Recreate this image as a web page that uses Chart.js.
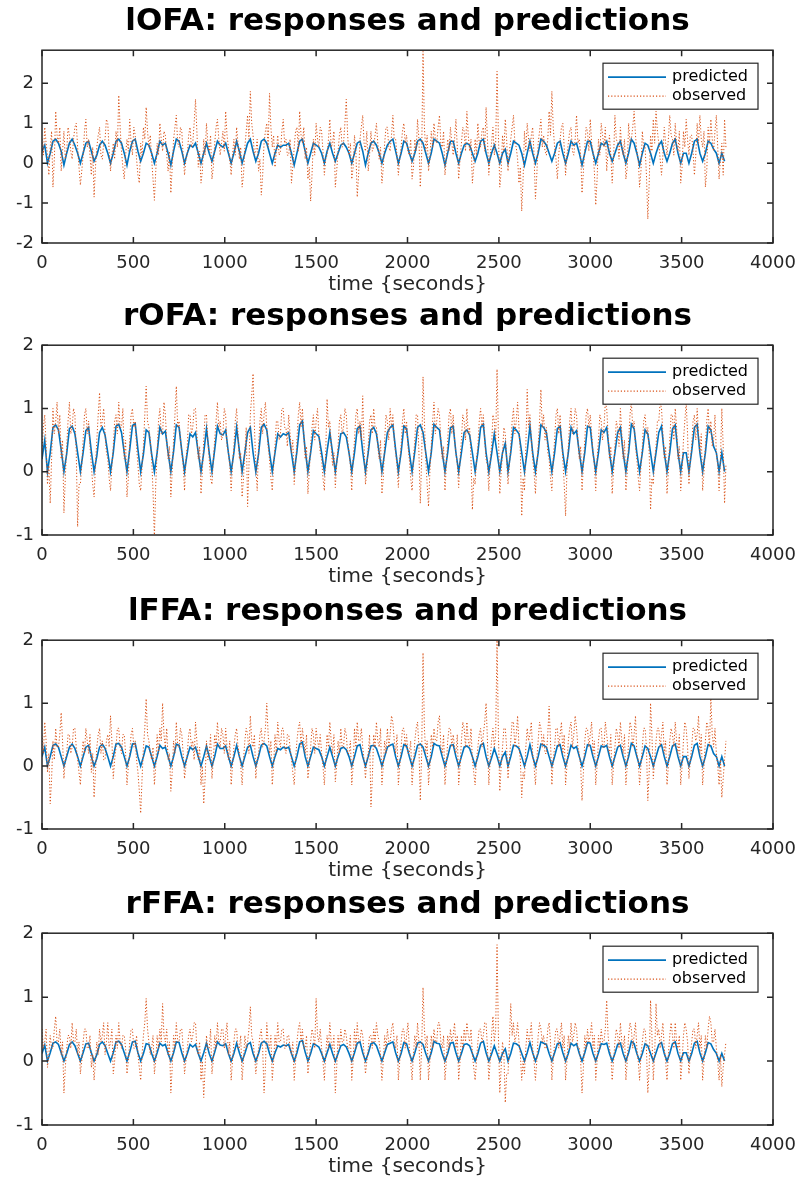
<!DOCTYPE html>
<html>
<head>
<meta charset="utf-8">
<title>Responses and predictions</title>
<script src="https://cdn.jsdelivr.net/npm/chart.js"></script>
<style>
  body { margin: 0; background: #fff; }
  #wrap { position: relative; width: 800px; height: 1180px; }
  .panel { position: absolute; left: 0; width: 800px; }
</style>
</head>
<body>
<div id="wrap"></div>
<script>
// sampling steps of the time series (seconds)
const dtPred = 15;
const dtObs = 7.5;

const roiNames = ['lOFA', 'rOFA', 'lFFA', 'rFFA'];
const xTicks = [0, 500, 1000, 1500, 2000, 2500, 3000, 3500, 4000];

// lOFA
const predicted_lOFA = [
  .3,.45,0,.25,.55,.6,.5,.3,-.05,.25,
  .5,.6,.45,.25,0,.25,.5,.55,.3,.05,
  .2,.45,.55,.45,.25,0,.25,.55,.6,.5,
  .25,-.05,.3,.55,.6,.3,.05,.25,.5,.45,
  .25,0,.25,.55,.45,.5,.25,-.05,.3,.6,
  .55,.3,0,.25,.45,.4,.5,.25,0,.25,
  .5,.25,.05,.3,.55,.45,.4,.5,.25,0,
  .25,.55,.3,0,.25,.5,.6,.3,.05,.25,
  .55,.6,.5,.25,0,.25,.45,.4,.45,.45,
  .5,.25,-.05,.25,.55,.6,.3,0,.25,.5,
  .45,.4,.25,0,.3,.5,.25,.05,.25,.45,
  .5,.4,.25,0,.25,.5,.55,.3,-.05,.25,
  .5,.55,.45,.25,0,.25,.45,.55,.6,.3,
  0,.25,.55,.5,.25,.05,.25,.55,.6,.5,
  .25,0,.25,.6,.55,.5,.25,-.05,.25,.55,
  .55,.25,0,.25,.45,.5,.45,.25,.05,.25,
  .55,.6,.25,0,.25,.45,.25,0,.25,.35,
  0,.25,.55,.5,.45,.25,-.05,.25,.55,.25,
  0,.25,.6,.55,.45,.25,.05,.25,.5,.55,
  .25,0,.25,.55,.45,.5,.25,-.05,.25,.55,
  .55,.25,0,.25,.5,.45,.55,.25,.05,.25,
  .45,.55,.25,0,.25,.6,.5,.25,-.05,.25,
  .5,.45,.25,0,.25,.45,.55,.25,.05,.25,
  .5,.6,.25,0,.25,.25,0,.25,.55,.6,
  .25,.05,.25,.55,.5,.35,.25,0,.25,.05
];
const observed_lOFA = [
  .6,.2,.9,.5,.2,-.3,.4,.8,-.6,.1,1.3,.7,.5,.9,-.2,.3,.8,.1,.3,.9,
  .7,.3,.1,.6,.9,1.0,.4,-.1,-.55,-.2,.2,.8,1.1,.4,.6,.2,-.3,.4,-.85,-.1,
  .4,.7,.9,.2,.1,.5,.6,1.1,1.0,.3,-.2,.2,.5,.1,.8,.4,1.7,.9,.3,-.1,
  -.4,.2,.6,.3,1.1,.5,.2,.9,.7,.1,-.3,-.5,.5,.2,.9,.6,1.4,.8,.4,.7,
  .1,-.4,-.93,-.2,.5,.2,1.0,.6,.3,.8,.7,.2,-.2,.3,-.75,-.1,.6,.9,1.2,.5,
  .4,.9,.8,.2,-.3,.1,.2,.7,.9,.4,.5,1.0,1.6,.8,-.1,.3,-.5,-.2,.6,.2,
  1.0,.5,.3,.7,-.4,-.1,.5,.9,1.1,.6,.2,.5,.8,.3,1.3,.7,.4,.1,-.3,.2,
  .6,.2,.9,.5,.1,.4,-.6,-.3,.4,.8,1.2,.6,1.8,1.0,.7,.2,.3,.6,-.2,.1,
  -.8,-.3,.5,.8,1.0,.4,1.75,.9,.4,.7,-.1,.3,.7,.2,.3,.8,1.1,.5,.6,.2,
  .2,.6,-.5,-.1,.4,.8,.9,.3,1.3,.7,.5,.9,.1,.4,-.4,-.1,-.95,-.3,.6,.2,
  1.0,.6,.4,.9,.8,.3,-.3,.1,.2,.6,1.1,.4,.5,.8,-.6,-.2,.3,.7,.9,.4,
  .5,1.0,1.6,.7,.2,.5,-.4,-.1,.7,.3,-.85,-.3,.6,.9,1.2,.5,.3,.8,-.2,.2,
  .8,.3,.4,.7,1.0,.5,.1,.4,-.5,-.1,.5,.9,.9,.4,.3,.7,1.2,.6,.6,.2,
  -.3,.1,.4,.8,1.0,.5,.7,.3,.2,.6,-.4,-.1,.6,.3,1.1,.6,-.6,.2,2.8,.9,
  .3,.7,-.2,.1,.8,.4,1.0,.6,.5,.9,1.2,.5,.4,.8,-.3,.1,.6,.3,.9,.5,
  .2,.6,1.1,.4,-.4,.1,.5,.9,.8,.3,1.3,.7,.3,.6,-.5,-.1,.6,.2,1.0,.5,
  .4,.8,.9,.3,1.4,.6,-.3,.2,.5,.9,.2,.5,2.3,.7,-.6,-.2,.7,.3,1.1,.6,
  -.2,.3,.6,.9,1.2,.5,.4,.1,-.5,-.1,-1.2,-.4,.8,.3,1.0,.6,.3,.7,.9,.2,
  -.9,-.3,.5,.8,1.1,.4,.7,.3,.2,.6,1.3,.7,1.8,.9,.4,.1,-.4,.2,.6,.9,
  1.0,.4,-.3,.2,.5,.8,.9,.3,.2,.6,1.2,.5,.6,.2,-.75,-.2,.4,.9,.8,.3,
  1.1,.5,.3,-.2,-1.05,-.4,.6,.2,1.0,.7,.4,.9,-.2,.3,.7,.2,-.5,.1,1.2,.6,
  .5,.1,.9,.4,.2,.6,-.4,-.1,1.0,.5,.6,.9,1.3,.7,.3,.1,-.6,-.2,.8,.4,
  .4,-.3,-1.4,-.5,.7,.3,1.1,.5,1.3,.8,.5,.1,-.3,.2,.9,.5,.2,.6,1.2,.7,
  .6,.2,1.0,.5,.3,.8,-.5,-.1,.8,.4,1.1,.6,.2,.7,.7,.3,-.3,.2,1.0,.5,
  1.2,.6,.4,.8,-.6,-.2,.9,.5,1.1,.6,.3,.8,1.2,.4,-.4,.1,.5,-.3,1.1,.4
];

// rOFA
const predicted_rOFA = [
  .2,.5,0,.3,.7,.74,.66,.35,0,.28,
  .68,.72,.6,.3,0,.3,.65,.7,.32,0,
  .25,.62,.7,.58,.3,0,.3,.72,.75,.62,
  .3,0,.35,.73,.76,.35,0,.28,.66,.62,
  .28,0,.3,.7,.6,.64,.3,0,.32,.74,
  .7,.33,0,.3,.6,.55,.62,.3,0,.3,
  .68,.3,0,.35,.72,.6,.58,.66,.3,0,
  .3,.7,.33,0,.3,.62,.7,.3,0,.28,
  .7,.75,.66,.3,0,.3,.6,.55,.6,.58,
  .62,.3,0,.32,.74,.8,.35,0,.3,.65,
  .6,.56,.3,0,.33,.62,.3,0,.3,.6,
  .62,.55,.3,0,.3,.68,.72,.32,0,.3,
  .66,.7,.6,.3,0,.3,.62,.7,.74,.35,
  0,.3,.72,.68,.3,0,.32,.7,.74,.62,
  .3,0,.3,.75,.7,.66,.3,0,.3,.7,
  .72,.3,0,.3,.62,.66,.58,.3,0,.3,
  .7,.75,.3,0,.28,.6,.3,0,.3,.45,
  0,.3,.7,.66,.6,.3,0,.32,.72,.3,
  0,.3,.74,.7,.62,.3,0,.3,.68,.72,
  .3,0,.3,.7,.6,.65,.3,0,.3,.72,
  .7,.3,0,.3,.66,.62,.7,.3,0,.3,
  .62,.7,.3,0,.3,.75,.68,.3,0,.3,
  .66,.6,.3,0,.3,.62,.72,.3,0,.3,
  .68,.74,.3,0,.3,.3,0,.32,.7,.75,
  .3,0,.3,.72,.66,.4,.3,0,.3,0
];
const observed_rOFA = [
  .3,.7,.9,.4,-.2,.1,-.5,.2,1.0,.6,.8,1.1,.6,.9,.2,.5,-.65,-.1,.4,.8,
  1.1,.6,.7,1.0,.9,.3,-.87,-.2,-.2,.1,.5,.9,1.0,.6,.8,.4,.1,-.2,-.4,.1,
  .5,.9,1.25,.7,.8,1.0,.6,.3,.2,-.1,-.3,.1,.4,.8,.9,.6,1.1,.7,.7,1.0,
  .2,.5,-.4,-.1,.5,.9,1.0,.7,.8,.4,.1,-.2,-.3,.1,.4,.9,1.35,.8,.7,.5,
  .2,-.3,-1.05,-.2,.3,.8,1.0,.6,.6,1.1,.9,.5,.2,.4,-.4,0,.5,.9,1.35,.7,
  .8,.5,.3,.1,-.3,.2,.4,.9,.9,.6,.7,1.0,1.0,.6,.2,.4,-.35,0,.5,.9,
  .9,.5,.2,-.1,-.2,.2,.5,.8,1.1,.7,.8,.5,.6,1.0,.9,.4,.3,.1,-.3,.1,
  .4,.8,1.0,.6,.2,.3,-.4,-.1,.3,.7,-.55,.1,.9,1.2,1.55,.7,.1,-.3,.4,.8,
  1.0,.6,.9,1.1,.7,.4,.2,-.1,-.3,.1,.4,.8,.8,.5,.6,1.0,1.0,.7,.7,.4,
  .9,.6,.3,.5,-.2,.1,.5,.9,1.1,.7,1.0,.6,.2,.4,-.35,0,.4,.7,.9,.5,
  .8,1.0,.6,.3,.2,-.1,-.3,.3,1.15,.7,.8,.4,.1,.3,-.25,.1,.4,.8,.9,.6,
  .7,1.0,.9,.5,.3,.1,-.3,.2,.5,.9,1.0,.6,.8,.5,1.2,.4,-.2,0,.4,.8,
  .9,.6,1.0,.7,.7,.4,.2,.5,-.35,-.1,.5,.9,.8,.5,1.0,.7,.9,.5,.3,.1,
  -.25,.2,.4,.8,1.0,.6,.8,.4,.2,-.1,-.3,.2,.5,.9,.9,.3,-.5,.2,1.5,.8,
  .2,-.2,-.55,0,.4,.8,1.1,.6,.8,1.0,.9,.5,.2,.4,-.3,.1,.5,.9,1.0,.6,
  .9,.5,.3,.1,-.25,.2,.5,.9,.8,.5,1.0,.6,.7,.2,-.6,-.1,-.2,.2,.4,.8,
  1.0,.7,.9,.5,.2,.1,-.3,.2,.4,.9,.8,.5,1.62,.6,-.35,0,.3,.7,.6,.2,
  -.2,.1,.4,.8,1.0,.6,.8,1.1,.7,.3,-.7,-.1,-.3,.4,1.3,.7,.9,.5,.2,0,
  -.35,.1,.4,.8,1.3,.7,.9,.5,.7,.3,.2,-.1,-.3,.2,.5,.9,1.0,.6,.9,.5,
  .2,-.2,-.7,0,.4,.8,1.0,.6,.7,1.0,.9,.5,.2,.4,-.3,.1,.5,.9,1.0,.7,
  .9,.6,.3,.1,-.3,.2,.5,.9,.8,.5,.7,1.1,1.0,.6,.2,.4,-.35,0,.4,.8,
  .7,.4,1.0,.6,.2,.5,-.3,0,.5,.9,1.1,.7,.8,.4,.2,-.1,-.3,.1,.4,.8,
  .9,.6,.7,.3,-.6,-.1,-.2,.2,.4,.8,.8,1.1,1.0,.6,.2,.4,-.35,0,.5,.9,
  .9,.5,1.0,.7,.2,.4,-.3,0,.5,.8,1.1,.6,-.2,.2,.4,.8,.9,.5,1.0,.6,
  .3,.6,-.3,0,.4,.8,1.0,.6,.8,.4,.5,.9,.3,.1,-.3,.2,1.0,.4,-.5,.1
];

// lFFA
const predicted_lFFA = [
  .15,.3,0,.15,.33,.35,.3,.15,0,.15,
  .3,.35,.28,.15,0,.15,.3,.33,.15,0,
  .12,.3,.35,.28,.15,0,.15,.35,.36,.3,
  .15,0,.15,.35,.36,.15,0,.15,.32,.3,
  .15,0,.15,.33,.28,.3,.15,0,.15,.35,
  .33,.15,0,.15,.3,.26,.3,.15,0,.15,
  .32,.15,0,.15,.35,.28,.28,.32,.15,0,
  .15,.33,.15,0,.15,.3,.33,.15,0,.15,
  .33,.36,.32,.15,0,.15,.28,.26,.3,.28,
  .3,.15,0,.15,.35,.38,.15,0,.15,.3,
  .28,.26,.15,0,.15,.3,.15,0,.15,.28,
  .3,.26,.15,0,.15,.32,.34,.15,0,.15,
  .32,.33,.28,.15,0,.15,.3,.33,.35,.15,
  0,.15,.34,.32,.15,0,.15,.33,.35,.3,
  .15,0,.15,.36,.33,.32,.15,0,.15,.33,
  .34,.15,0,.15,.3,.32,.28,.15,0,.15,
  .33,.36,.15,0,.13,.28,.15,0,.15,.22,
  0,.15,.33,.32,.28,.15,0,.15,.34,.15,
  0,.15,.35,.33,.3,.15,0,.15,.32,.34,
  .15,0,.15,.33,.28,.31,.15,0,.15,.34,
  .33,.15,0,.15,.32,.3,.33,.15,0,.15,
  .3,.33,.15,0,.15,.36,.32,.15,0,.15,
  .32,.28,.15,0,.15,.3,.34,.15,0,.15,
  .32,.35,.15,0,.15,.15,0,.15,.33,.36,
  .15,0,.15,.34,.32,.2,.15,0,.15,0
];
const observed_lFFA = [
  .5,.2,.7,.4,-.1,.2,-.6,-.2,.4,.1,.6,.3,.3,.5,.85,.4,-.2,.1,.2,.5,
  .5,.2,.3,.6,.6,.3,.1,-.1,-.3,.1,.4,.2,.6,.4,.2,.5,-.1,.2,-.5,-.1,
  .3,.5,.6,.2,.4,.1,.1,.4,.5,.3,.8,.4,-.2,.1,.3,.6,.6,.3,.2,.5,
  .5,.2,-.3,0,.2,.5,.6,.3,.4,.1,-.1,-.4,-.75,-.2,.3,.6,1.07,.5,.4,.2,
  .1,.3,-.3,0,.5,.2,.6,.4,1.0,.5,.3,.6,.1,.2,-.4,-.1,.4,.2,.7,.3,
  .3,.6,.5,.2,-.2,0,.2,.5,.6,.3,.4,.1,.7,.4,.1,.3,-.3,0,-.6,-.2,
  .4,.1,.2,.5,-.2,.1,.5,.3,.7,.4,.3,.6,.5,.2,.6,.3,.1,.4,-.3,0,
  .3,.5,.6,.3,.2,0,-.3,.1,.4,.6,.5,.2,.8,.4,.3,.5,-.2,.1,.2,.5,
  .6,.3,.4,.6,1.0,.5,.2,.4,-.3,0,.5,.2,.7,.4,.3,.6,.6,.3,.2,.5,
  .5,.3,.1,-.1,-.3,.1,.4,.6,.7,.3,.6,.4,.2,.5,-.2,0,.3,.6,.5,.2,
  .6,.4,.3,.5,.2,0,-.3,.1,.5,.3,.7,.4,.2,.5,-.25,0,.4,.2,.6,.3,
  .3,.6,.5,.2,.2,.4,-.3,0,.6,.3,.7,.4,.4,.6,.3,.1,-.2,.1,.2,.5,
  -.65,-.2,.5,.3,.7,.4,.3,.6,-.3,0,.4,.2,.6,.3,.5,.8,.7,.4,.2,.5,
  -.3,0,.3,.6,.6,.3,.5,.2,.2,.4,-.3,0,.4,.6,.7,.3,-.55,.2,1.8,.6,
  .2,.4,-.3,0,.5,.3,.6,.4,.4,.7,.8,.3,.2,.5,-.3,0,.4,.6,.6,.3,
  .5,.3,.2,.5,-.3,0,.4,.7,.6,.3,.7,.4,.3,.6,.1,-.1,-.3,.1,.3,.5,
  .6,.3,.5,.7,1.0,.4,-.3,.1,.4,.6,.3,.5,2.0,.5,-.4,0,.3,.6,.6,.3,
  -.2,.1,.4,.7,.7,.3,.5,.8,.3,.1,-.5,-.1,-.2,.3,.6,.4,.5,.7,.2,0,
  -.3,.1,.4,.7,.6,.3,.5,.2,.2,.5,.95,.4,-.3,.1,.3,.6,.6,.3,.5,.7,
  .2,.5,-.3,0,.4,.6,.7,.3,.5,.8,.6,.3,.2,0,-.55,-.1,.4,.6,.6,.3,
  .5,.7,.2,.4,-.3,0,.4,.6,.6,.3,.3,.7,.5,.3,.2,.5,-.3,0,.3,.6,
  .5,.3,.7,.4,.2,.5,-.3,0,.4,.7,.6,.3,.5,.8,.2,.1,-.3,0,.3,.6,
  .6,.3,-.55,-.1,1.0,.5,-.2,.1,.4,.6,.6,.3,.5,.7,.2,.4,-.3,0,.4,.6,
  .5,.3,.7,.4,.2,.5,-.3,0,.4,.7,.6,.3,-.2,.1,.3,.6,.6,.4,.5,.8,
  .2,.5,-.3,0,.4,.7,.6,.3,1.1,.5,.3,.6,.2,0,-.3,.1,-.5,-.2,.1,.4
];

// rFFA
const predicted_rFFA = [
  .12,.25,0,.13,.28,.3,.26,.13,0,.12,
  .26,.3,.24,.12,0,.13,.27,.28,.13,0,
  .1,.26,.3,.24,.12,0,.13,.3,.31,.26,
  .13,0,.14,.3,.31,.13,0,.12,.27,.26,
  .12,0,.13,.28,.24,.26,.12,0,.13,.3,
  .29,.13,0,.12,.26,.22,.26,.12,0,.13,
  .28,.12,0,.14,.3,.25,.24,.27,.12,0,
  .12,.28,.13,0,.12,.26,.29,.12,0,.12,
  .28,.31,.27,.12,0,.13,.24,.22,.25,.24,
  .26,.12,0,.13,.3,.32,.14,0,.12,.27,
  .25,.22,.12,0,.13,.26,.12,0,.12,.24,
  .26,.22,.12,0,.13,.28,.3,.13,0,.12,
  .27,.29,.24,.12,0,.13,.26,.28,.3,.13,
  0,.12,.29,.27,.12,0,.13,.28,.3,.26,
  .12,0,.13,.31,.28,.27,.12,0,.12,.28,
  .29,.13,0,.12,.26,.27,.24,.12,0,.12,
  .28,.31,.13,0,.11,.24,.12,0,.12,.19,
  0,.12,.28,.27,.24,.12,0,.13,.29,.13,
  0,.12,.3,.28,.26,.12,0,.13,.27,.29,
  .13,0,.12,.28,.24,.27,.12,0,.13,.29,
  .28,.12,0,.13,.27,.26,.28,.12,0,.12,
  .26,.28,.12,0,.13,.31,.27,.12,0,.12,
  .27,.24,.12,0,.13,.26,.29,.12,0,.12,
  .27,.3,.12,0,.13,.13,0,.12,.28,.31,
  .13,0,.13,.29,.27,.18,.12,0,.12,0
];
const observed_rFFA = [
  .5,.2,.3,.5,-.1,.1,.4,.2,.2,.5,.7,.3,.3,.5,.1,.3,-.5,-.1,.2,.4,
  .4,.2,.6,.3,.3,.5,.1,.3,-.2,0,.3,.5,.5,.2,.2,.4,-.1,.1,-.3,0,
  .3,.1,.5,.3,.4,.6,.1,.3,.6,.2,.3,.5,-.2,0,.4,.2,.6,.3,.2,.4,
  .4,.2,-.2,0,.3,.5,.5,.2,.2,.4,.1,-.1,-.3,.1,.4,.6,.98,.5,.3,.1,
  .2,.4,-.2,0,.4,.2,.5,.3,.9,.4,.3,.5,.1,.3,-.5,-.1,.4,.2,.6,.3,
  .3,.5,.5,.2,-.2,0,.2,.4,.5,.3,.4,.6,.6,.2,.1,.3,-.3,0,-.57,-.1,
  .4,.2,.2,.5,-.2,0,.4,.2,.6,.3,.3,.5,.5,.2,.4,.6,.1,.3,-.3,0,
  .3,.5,.5,.2,.2,.4,-.3,0,.4,.2,.3,.5,.85,.4,.3,.1,-.2,0,.2,.4,
  .5,.2,-.5,-.1,.6,.3,.2,.4,-.3,0,.4,.2,.6,.3,.3,.5,.5,.2,.2,.4,
  .4,.2,.1,.3,-.3,0,.3,.5,.6,.3,.5,.2,.2,.4,-.2,0,.3,.5,.4,.2,
  .98,.4,.3,.5,.2,0,-.3,.1,.4,.2,.6,.3,.2,.4,-.5,-.1,.4,.2,.5,.3,
  .3,.5,.4,.2,.2,.4,-.3,0,.5,.2,.6,.3,.3,.5,.4,.1,-.2,0,.2,.4,
  .4,.2,.5,.3,.6,.4,.3,.1,-.3,0,.4,.2,.5,.3,.3,.5,.6,.3,.2,.4,
  -.3,0,.3,.5,.5,.2,.4,.6,.2,0,-.3,.1,.4,.2,.6,.3,-.3,.2,1.15,.5,
  .2,.4,-.3,0,.4,.2,.5,.3,.3,.6,.6,.3,.2,.4,-.3,0,.4,.2,.5,.3,
  .4,.6,.2,.4,-.3,0,.4,.2,.5,.3,.6,.4,.3,.5,.1,-.1,-.3,0,.3,.5,
  .5,.3,.4,.6,.6,.2,-.3,0,.4,.7,.3,.5,1.82,.4,-.5,-.1,.3,.1,-.65,-.2,
  -.2,.3,.9,.4,.6,.3,.4,.6,.3,.1,-.3,0,-.2,.2,.5,.3,.4,.6,.2,0,
  -.3,0,.4,.6,.5,.3,.4,.2,.2,.5,.6,.3,-.3,0,.3,.5,.5,.2,.4,.6,
  .2,.4,-.3,0,.4,.2,.6,.3,.4,.6,.5,.2,.2,0,-.5,-.1,.4,.2,.5,.3,
  .4,.6,.2,.4,-.3,0,.4,.2,.5,.3,.3,.5,.95,.4,.2,.1,-.3,0,.3,.5,
  .4,.2,.6,.3,.2,.4,-.3,0,.4,.6,.5,.2,.4,.6,.2,0,-.3,.1,.3,.5,
  .5,.2,-.5,-.1,.95,.4,-.3,.1,.9,.4,.5,.2,.4,.6,.2,0,-.3,.1,.4,.6,
  .4,.2,.6,.3,.2,.4,-.3,0,.4,.6,.5,.3,-.2,.1,.3,.5,.5,.2,.4,.6,
  .2,.4,-.3,0,.4,.2,.5,.7,.6,.3,.3,.5,.2,0,-.3,.1,-.4,-.1,.1,.3
];

const predictedSets = [predicted_lOFA, predicted_rOFA, predicted_lFFA, predicted_rFFA];
const observedSets = [observed_lOFA, observed_rOFA, observed_lFFA, observed_rFFA];
const yRanges = [[-2, 2.83], [-1, 2], [-1, 2], [-1, 2]];

// page layout: where each subplot sits
const panelTops = [0, 295, 590, 883];
const panelHeights = [295, 292, 291, 294];

const blue = '#0072BD';
const orange = '#D95319';
const axisColor = '#262626';

// MATLAB-like box, inward ticks and boxed legend
const boxPlugin = {
  id: 'matlabBox',
  afterDraw(chart) {
    const { ctx, chartArea: a, scales: { x, y } } = chart;
    ctx.save();
    ctx.strokeStyle = axisColor;
    ctx.lineWidth = 1.5;
    ctx.strokeRect(a.left, a.top, a.right - a.left, a.bottom - a.top);
    ctx.beginPath();
    x.ticks.forEach(t => {
      const px = x.getPixelForValue(t.value);
      ctx.moveTo(px, a.bottom); ctx.lineTo(px, a.bottom - 6);
      ctx.moveTo(px, a.top); ctx.lineTo(px, a.top + 6);
    });
    y.ticks.forEach(t => {
      const py = y.getPixelForValue(t.value);
      ctx.moveTo(a.left, py); ctx.lineTo(a.left + 6, py);
      ctx.moveTo(a.right, py); ctx.lineTo(a.right - 6, py);
    });
    ctx.stroke();

    // legend
    const bw = 155, bh = 46;
    const bx = a.right - 15 - bw, by = a.top + 13;
    ctx.fillStyle = '#fff';
    ctx.fillRect(bx, by, bw, bh);
    ctx.lineWidth = 1.2;
    ctx.strokeStyle = axisColor;
    ctx.strokeRect(bx, by, bw, bh);
    const rows = [by + 14, by + 33];
    chart.data.datasets.slice().sort((p, q) => p.legendIndex - q.legendIndex).forEach((ds, i) => {
      ctx.beginPath();
      ctx.strokeStyle = ds.borderColor;
      ctx.lineWidth = ds.legendWidth;
      ctx.setLineDash(ds.borderDash || []);
      ctx.moveTo(bx + 5, rows[i]);
      ctx.lineTo(bx + 63, rows[i]);
      ctx.stroke();
      ctx.setLineDash([]);
      ctx.fillStyle = '#000';
      ctx.font = '16px "DejaVu Sans"';
      ctx.textBaseline = 'middle';
      ctx.textAlign = 'left';
      ctx.fillText(ds.label, bx + 69, rows[i]);
    });
    ctx.restore();
  }
};

const wrap = document.getElementById('wrap');

roiNames.forEach((name, k) => {
  const div = document.createElement('div');
  div.className = 'panel';
  div.style.top = panelTops[k] + 'px';
  div.style.height = panelHeights[k] + 'px';
  const canvas = document.createElement('canvas');
  div.appendChild(canvas);
  wrap.appendChild(div);

  const pred = predictedSets[k].map((v, i) => ({ x: i * dtPred, y: v }));
  const obs = observedSets[k].map((v, i) => ({ x: i * dtObs, y: v }));

  new Chart(canvas, {
    type: 'line',
    data: {
      datasets: [
        {
          label: 'predicted', legendIndex: 0, order: 1, legendWidth: 1.8,
          data: pred, borderColor: blue, borderWidth: 1.6,
          pointRadius: 0, tension: 0
        },
        {
          label: 'observed', legendIndex: 1, order: 0, legendWidth: 1.2,
          data: obs, borderColor: orange, borderWidth: 1,
          borderDash: [1.2, 2], pointRadius: 0, tension: 0
        }
      ]
    },
    options: {
      responsive: true,
      maintainAspectRatio: false,
      animation: false,
      layout: { padding: { left: 0, right: 27, top: 0, bottom: 0 } },
      plugins: {
        legend: { display: false },
        tooltip: { enabled: false },
        title: {
          display: true,
          fullSize: false,
          text: name + ': responses and predictions',
          color: '#000',
          font: { family: 'DejaVu Sans', size: 31, weight: 'bold' },
          padding: { top: 3, bottom: 10 }
        }
      },
      scales: {
        x: {
          type: 'linear',
          min: xTicks[0],
          max: xTicks[xTicks.length - 1],
          grid: { display: false, drawTicks: false },
          border: { display: false },
          afterBuildTicks: s => { s.ticks = xTicks.map(v => ({ value: v })); },
          afterFit: s => { s.height = 52; s.paddingLeft = 0; s.paddingRight = 0; },
          ticks: {
            autoSkip: false, maxRotation: 0, padding: 10,
            color: axisColor,
            font: { family: 'DejaVu Sans', size: 18 },
            callback: v => String(v)
          },
          title: {
            display: true,
            text: 'time {seconds}',
            color: axisColor,
            padding: 0,
            font: { family: 'DejaVu Sans', size: 20, lineHeight: 1 }
          }
        },
        y: {
          min: yRanges[k][0],
          max: yRanges[k][1],
          grid: { display: false, drawTicks: false },
          border: { display: false },
          afterFit: s => { s.width = 42; },
          ticks: {
            stepSize: 1, includeBounds: false, padding: 8,
            color: axisColor,
            font: { family: 'DejaVu Sans', size: 18 },
            callback: v => String(v)
          }
        }
      }
    },
    plugins: [boxPlugin]
  });
});
</script>
</body>
</html>
